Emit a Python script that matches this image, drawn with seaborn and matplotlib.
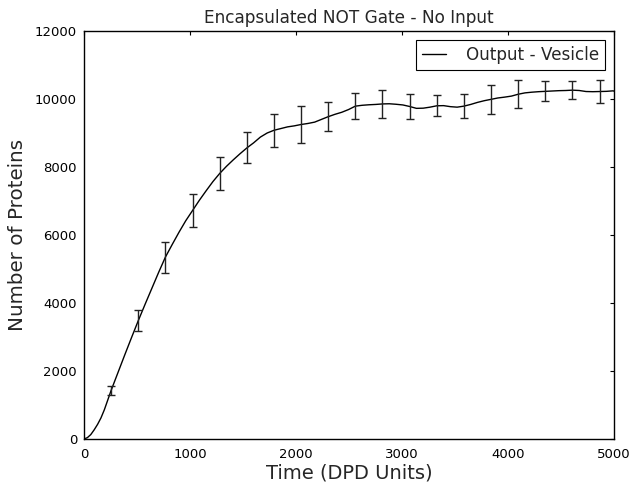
import numpy as np
import pandas as pd
import matplotlib
matplotlib.use("Agg")
import matplotlib.pyplot as plt
import seaborn as sns

# ---- data ----
time = [0, 32, 64, 96, 128, 160, 192, 256, 320, 384, 448, 512, 576, 640, 704, 768, 832, 896,
        960, 1024, 1088, 1152, 1216, 1280, 1344, 1408, 1472, 1536, 1600, 1664, 1728,
        1792, 1856, 1920, 1984, 2048, 2112, 2176, 2240, 2304, 2368, 2432, 2496, 2560,
        2624, 2688, 2752, 2816, 2880, 2944, 3008, 3072, 3136, 3200, 3264, 3328, 3392,
        3456, 3520, 3584, 3648, 3712, 3776, 3840, 3904, 3968, 4032, 4096, 4160, 4224,
        4288, 4352, 4416, 4480, 4544, 4608, 4672, 4736, 4800, 4864, 4928, 4992, 5000]
proteins = [0, 40, 130, 270, 430, 620, 860, 1430, 1950, 2470, 2980, 3480, 3960, 4430, 4900, 5350,
            5720, 6080, 6420, 6720, 7020, 7300, 7570, 7810, 8020, 8210, 8390, 8560, 8710,
            8880, 9000, 9080, 9130, 9180, 9210, 9250, 9280, 9320, 9400, 9480, 9550, 9610,
            9690, 9790, 9815, 9830, 9840, 9855, 9860, 9845, 9825, 9780, 9725, 9730, 9760,
            9800, 9805, 9775, 9760, 9790, 9840, 9900, 9950, 9990, 10030, 10055, 10085,
            10140, 10180, 10200, 10215, 10225, 10235, 10245, 10250, 10260, 10250, 10220,
            10215, 10220, 10225, 10240, 10230]

err_time = [256, 512, 768, 1024, 1280, 1536, 1792, 2048, 2304, 2560, 2816, 3072, 3328,
            3584, 3840, 4096, 4352, 4608, 4864]
err_mean = [1430, 3480, 5350, 6720, 7810, 8560, 9080, 9250, 9480, 9790, 9855, 9780,
            9800, 9790, 9990, 10140, 10225, 10260, 10220]
err_size = [135, 305, 455, 490, 495, 456, 480, 530, 430, 390, 405, 370, 305, 355, 425,
            410, 295, 270, 330]

series_label = "Output - Vesicle"
title = "Encapsulated NOT Gate - No Input"
xlabel = "Time (DPD Units)"
ylabel = "Number of Proteins"
xticks = [0, 1000, 2000, 3000, 4000, 5000]
yticks = [0, 2000, 4000, 6000, 8000, 10000, 12000]

# ---- plotting ----
sns.set_style("white")
plt.rcParams["font.family"] = ["DejaVu Sans"]

fig = plt.figure(figsize=(6.32, 4.90), dpi=100)
ax = fig.add_axes([84 / 632, 1 - 439 / 490, 530 / 632, 408 / 490])

df = pd.DataFrame({"t": time, "n": proteins})
sns.lineplot(data=df, x="t", y="n", ax=ax, color="black", linewidth=1.0,
             label=series_label, errorbar=None)
ax.errorbar(err_time, err_mean, yerr=err_size, fmt="none", ecolor="#222222",
            elinewidth=1.0, capsize=3, capthick=1.0)

ax.set_xlim(0, 5000)
ax.set_ylim(0, 12000)
ax.set_xticks(xticks)
ax.set_yticks(yticks)
ax.tick_params(direction="in", length=3, width=0.8, top=True, right=True,
               labelsize=9.5, colors="black")
ax.tick_params(axis="x", pad=6.5)
ax.tick_params(axis="y", pad=5)
for s in ax.spines.values():
    s.set_color("black")
    s.set_linewidth(1.0)

ax.set_title(title, fontsize=12.2, pad=6)
ax.set_xlabel(xlabel, fontsize=14, labelpad=2)
ax.set_ylabel(ylabel, fontsize=14.3, labelpad=6)

leg = ax.legend(loc="upper right", fontsize=12.1, fancybox=False, framealpha=1,
                edgecolor="black", borderaxespad=0.55, handlelength=1.4,
                handletextpad=1.2, borderpad=0.35)
leg.get_frame().set_linewidth(0.8)

fig.savefig("out.png", dpi=100)
